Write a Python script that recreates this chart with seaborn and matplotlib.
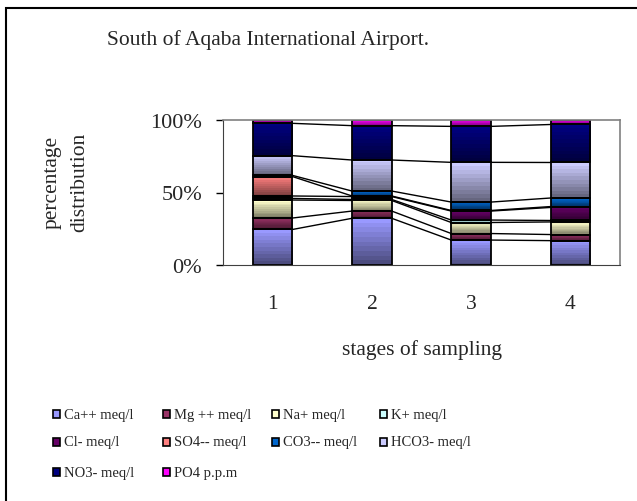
import numpy as np
import pandas as pd
import matplotlib
matplotlib.use("Agg")
import matplotlib.pyplot as plt
import matplotlib.colors as mcolors
from matplotlib.patches import Rectangle
import seaborn as sns

# ---------------- data ----------------
stages = ["1", "2", "3", "4"]
series_names = ["Ca++ meq/l", "Mg ++ meq/l", "Na+ meq/l", "K+ meq/l",
                "Cl- meq/l", "SO4-- meq/l", "CO3-- meq/l", "HCO3- meq/l",
                "NO3- meq/l", "PO4 p.p.m"]
ca = [24.5, 32.2, 17.2, 16.8]
mg = [7.9, 5.0, 4.5, 4.2]
na = [12.4, 7.3, 7.6, 8.7]
k = [1.1, 0.7, 1.7, 1.0]
cl = [1.7, 2.0, 6.2, 9.0]
so4 = [13.4, 0.4, 0.4, 0.6]
co3 = [0.8, 3.4, 5.8, 5.9]
hco3 = [13.6, 21.4, 27.4, 24.5]
no3 = [22.3, 23.7, 24.8, 26.2]
po4 = [2.3, 3.9, 4.4, 3.1]
series_values = [ca, mg, na, k, cl, so4, co3, hco3, no3, po4]
series_colors = ["#9999FF", "#993366", "#FFFFCC", "#CCFFFF", "#660066",
                 "#FF8080", "#0066CC", "#CCCCFF", "#000080", "#FF00FF"]
yticks = [0, 50, 100]
ytick_labels = ["0%", "50%", "100%"]

# ---------------- figure ----------------
W, H = 637, 502
sns.set_style("white")
plt.rcParams["font.family"] = ["Liberation Serif", "DejaVu Serif"]
fig = plt.figure(figsize=(W / 100, H / 100), dpi=100)
ax = fig.add_axes([223 / W, 1 - 266 / H, 397 / W, 145 / H])

vals = np.array(series_values, dtype=float)
vals = vals / vals.sum(axis=0) * 100.0
cum = np.cumsum(vals, axis=0)
bottoms = np.vstack([np.zeros(len(stages)), cum[:-1]])

bar_w = 0.4
for j, name in enumerate(series_names):
    df = pd.DataFrame({"stage": stages, "pct": vals[j]})
    sns.barplot(data=df, x="stage", y="pct", bottom=bottoms[j], width=bar_w,
                color=series_colors[j], edgecolor="black", linewidth=1.3,
                errorbar=None, ax=ax, saturation=1)

# gradient fills (light top -> dark bottom), banded like the original
def grad_img(color, n=10):
    base = np.array(mcolors.to_rgb(color))
    t = np.linspace(0, 1, n)[:, None]
    top = base
    bot = base * 0.5
    cols = top * (1 - t) + bot * t
    return cols[::-1][:, None, :]  # origin lower: row0 is bottom

for j, cont in enumerate(ax.containers):
    for p in cont.patches:
        x0, y0 = p.get_x(), p.get_y()
        w, h = p.get_width(), p.get_height()
        img = grad_img(series_colors[j])
        ax.imshow(img, extent=[x0, x0 + w, y0, y0 + h], origin="lower",
                  aspect="auto", interpolation="nearest", zorder=1.5)
        p.set_facecolor("none")
        p.set_zorder(2)

# series lines
n = len(stages)
for j in range(len(series_names) - 1):
    for i in range(n - 1):
        ax.plot([i + bar_w / 2, i + 1 - bar_w / 2], [cum[j, i], cum[j, i + 1]],
                color="black", lw=1.0, zorder=1.8)

ax.set_xlim(-0.5, n - 0.5)
ax.set_ylim(0, 100)
ax.set_yticks(yticks)
ax.set_yticklabels(ytick_labels)
ax.tick_params(axis="y", direction="out", length=5, width=1, color="black",
               pad=10, labelsize=16, left=True)
ax.tick_params(axis="x", length=0, pad=21, labelsize=15.5)
ax.set_xlabel("stages of sampling", fontsize=15.5, labelpad=19)
ax.set_ylabel("")
for s in ["top", "right"]:
    ax.spines[s].set_color("#808080")
    ax.spines[s].set_linewidth(1.2)
ax.spines["left"].set_color("#404040")
ax.spines["bottom"].set_color("#404040")
for s in ax.spines.values():
    s.set_visible(True)

# title and y label
fig.text(268 / W, 1 - 40 / H, "South of Aqaba International Airport.",
         ha="center", va="center", fontsize=15.5)
fig.text(66 / W, 1 - 182 / H, "percentage\ndistribution", rotation=90,
         ha="center", va="center", fontsize=15.5, linespacing=1.6,
         multialignment="center")

# legend (row-major, 4 columns)
col_x = [53, 163, 272, 380]
row_y = [415, 443, 473]
for j, name in enumerate(series_names):
    r, c = divmod(j, 4)
    x, y = col_x[c], row_y[r]
    fig.add_artist(Rectangle((x / W, 1 - (y + 4) / H), 7 / W, 8 / H,
                             transform=fig.transFigure, facecolor=series_colors[j],
                             edgecolor="black", linewidth=1.2))
    fig.text((x + 11) / W, 1 - y / H, name, ha="left", va="center", fontsize=10.5)

# outer chart border
fig.add_artist(Rectangle((6.5 / W, -0.2), 1.5, 1.2 - 8.5 / H,
                         transform=fig.transFigure, facecolor="none",
                         edgecolor="black", linewidth=1.5))

fig.savefig("out.png", dpi=100)
